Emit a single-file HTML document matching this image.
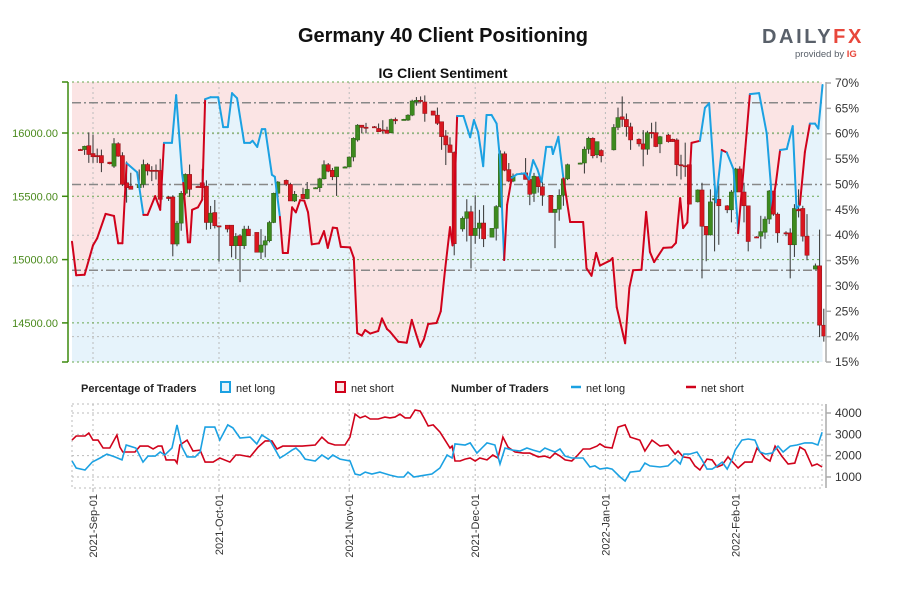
<!DOCTYPE html>
<html><head><meta charset="utf-8"><style>
html,body{margin:0;padding:0;background:#fff;}
svg{display:block;font-family:"Liberation Sans",sans-serif;}
</style></head><body>
<svg id="chart" width="900" height="600" viewBox="0 0 900 600" xmlns="http://www.w3.org/2000/svg">
<rect width="900" height="600" fill="#fff"/>
<text x="443" y="42" text-anchor="middle" font-size="20" font-weight="bold" fill="#111">Germany 40 Client Positioning</text>
<text x="443" y="78" text-anchor="middle" font-size="14" font-weight="bold" fill="#111">IG Client Sentiment</text>
<g>
<text x="762" y="43" font-size="20" font-weight="bold" letter-spacing="2.6" fill="#59606a">DAILY<tspan fill="#e8473b">FX</tspan></text>
<text x="795" y="57" font-size="9.5" fill="#59606a">provided by <tspan font-weight="bold" fill="#e8473b">IG</tspan></text>
</g>
<g id="main"></g>
<g id="lower"></g>
<g font-size="11" fill="#222">
<text x="81" y="392" font-weight="bold">Percentage of Traders</text>
<rect x="221" y="382" width="9" height="10" fill="#e6f3fb" stroke="#1ba1e2" stroke-width="2"/>
<text x="236" y="392">net long</text>
<rect x="336" y="382" width="9" height="10" fill="#fbe4e4" stroke="#d0021b" stroke-width="2"/>
<text x="351" y="392">net short</text>
<text x="451" y="392" font-weight="bold">Number of Traders</text>
<line x1="571" y1="387" x2="581" y2="387" stroke="#1ba1e2" stroke-width="2.5"/>
<text x="586" y="392">net long</text>
<line x1="686" y1="387" x2="696" y2="387" stroke="#d0021b" stroke-width="2.5"/>
<text x="701" y="392">net short</text>
</g>
</svg>
<script>
// ---- data ----
const sentDays=[0,1,3,5,6,8,10,11,12,13,15.5,17,18,19.8,21,21.9,23.8,24.8,26.2,26.5,27.6,28.1,28.6,30,31,31.7,33,34.8,36,37.1,38.1,39.3,41,42.4,43,44.1,45.2,46,47.6,48.3,49.5,50.2,51.4,52.4,53.3,54.3,55.3,56.2,57.1,58.8,60,60.9,62.1,63.1,64,66.2,67.1,67.9,69,69.8,71,72.9,73.8,75,75.7,77.7,79.7,80.9,82,82.9,83.8,84.8,86.8,87.8,88.8,90,90.6,91.4,91.7,93.2,94.8,95.7,96.7,97.9,98.7,99.9,101.1,101.9,102.9,103.6,104.7,105.9,107.9,108.8,109.8,110.8,111.8,112.9,114.2,114.5,115.8,117,118.6,121.7,122.5,123.7,124.8,125.7,128.1,128.7,129.7,131.7,132.7,133.6,135.6,136.7,137.6,138.6,140.8,142.8,143.8,144.8,145.5,146.5,147.5,149.5,150.7,151.7,153.3,154.7,155.9,157.5,158.5,158.6,160.3,161.4,163.6,165.4,166.4,166.6,167.6,168.6,170.2,170.5,171.6,172.5,173.3,174.5,175.7,176.9,177.7,178.7];
const sentPct=[38.7,32.1,32.2,38,39.4,44.2,43.8,38.4,38.4,54.2,52.4,44,44,47.7,45,58.2,58.2,67.6,52.2,50.3,38.6,38.6,45,45.5,47,66.8,67.2,67.2,61.3,61.3,68,67,58.2,58.2,58.6,57.4,60.9,60.9,51.9,51.5,43.6,36.5,36.5,45.5,44.5,46.9,46.8,44.5,38.2,38.4,40.8,37.5,41.5,41.4,37.7,37.6,35.5,20.7,20.2,21.3,20.6,21.1,23.6,21.5,21,19,18.8,23.3,20.3,18,19.5,22.5,22.7,25,33,41.6,38,56.2,63.5,63.5,59.3,62.7,60.3,53.6,63.7,63.7,62,55,35.1,46,51.3,52,52.2,51,54.8,53,50.5,57.4,57.4,56,59.4,51.2,42.6,42.6,33.5,32,36.5,34,35,35.5,25.8,18.7,29.6,33.1,33.2,44.6,36.7,34.7,37.5,37.6,38.5,47.3,41.4,42.5,58.2,58.6,65.1,66,46.5,56.8,56.3,53,42.4,40.4,57,67.8,68,60.1,49.9,45,50.3,56.8,57,58,61.5,45.3,46,56.4,62,62,61,69.6];
const sentSide="RRRRRRRRRRBBRRRRBBBBRRRRRRBBBBBBBBBBBBBBBRRRRRRRRRRRRRRRRRRRRRRRRRRRRRRRRRRRRRRBBBBBBBBBBRRBBBBBBBBBBBRRRRRRRRRRRRRRRRRRRRRRRRBBBBRBBBRRBBBBRRBBBBBRRBBBB".split("");
const candleDays=[2,3,4,5,6,7,9,10,11,12,13,14,16,17,18,19,20,21,23,24,25,26,27,28,30,31,32,33,34,35,37,38,39,40,41,42,44,45,46,47,48,49,51,52,53,55,56,58,59,60,61,62,63,65,66,67,68,69,70,72,73,74,75,76,77,79,80,81,82,83,84,86,87,88,89,90,91,93,94,95,96,97,98,100,101,102,103,104,105,107,108,109,110,111,112,114,115,116,117,118,121,122,123,124,125,126,129,130,131,132,133,135,136,137,138,139,140,142,143,144,145,146,147,149,150,151,152,153,154,156,157,158,159,160,161,163,164,165,166,167,168,170,171,172,173,174,175,177,178,179];
const candleOpen=[15870,15869,15900,15838,15822,15822,15770,15738,15916,15822,15607,15581,15568,15594,15751,15706,15706,15704,15495,15495,15123,15288,15524,15673,15578,15607,15581,15293,15372,15267,15272,15272,15110,15188,15110,15241,15215,15058,15115,15149,15293,15524,15626,15594,15463,15516,15482,15566,15568,15638,15750,15706,15654,15730,15732,15810,15945,16062,16046,16050,16036,16025,16023,16002,16107,16106,16102,16141,16245,16258,16245,16174,16141,16089,15977,15906,15846,15242,15326,15378,15190,15247,15289,15177,15247,15419,15836,15711,15620,15682,15685,15633,15523,15654,15576,15508,15372,15398,15508,15638,15760,15763,15872,15958,15828,15862,15867,16044,16128,16107,16049,15951,15914,15872,16005,16003,15914,15984,15951,15945,15750,15742,15750,15456,15550,15263,15195,15471,15477,15425,15393,15534,15716,15534,15425,15180,15185,15216,15320,15542,15359,15212,15211,15117,15399,15404,15185,14925,14951,14482];
const candleHigh=[15875,15900,16005,15987,15877,15869,15772,15960,15927,15848,15775,15686,15712,15790,15764,15738,15751,15796,15503,15508,15306,15542,15681,15751,15584,15717,15626,15424,15471,15267,15272,15272,15209,15201,15267,15267,15215,15241,15188,15306,15529,15620,15633,15607,15542,15568,15613,15572,15646,15784,15763,15724,15732,15737,15815,15966,16070,16062,16080,16055,16075,16101,16049,16114,16122,16112,16148,16263,16284,16289,16297,16174,16201,16089,16023,15966,15854,15341,15477,15425,15508,15393,15430,15247,15430,15862,15854,15763,15680,15688,15802,15685,15685,15659,15615,15508,15398,15555,15638,15758,15766,15893,15971,15966,15932,15872,16070,16200,16289,16154,16081,15958,16023,16018,16081,16089,15977,15992,15955,15958,15828,15924,15750,15555,15607,15263,15555,15602,15586,15430,15550,15724,15737,15607,15425,15185,15346,15341,15550,15542,15372,15224,15247,15438,15555,15425,15359,14969,15237,14612];
const candleLow=[15862,15827,15764,15764,15764,15691,15752,15725,15812,15581,15450,15555,15555,15568,15665,15620,15633,15463,15463,15026,15105,15228,15508,15495,15570,15568,15236,15241,15246,14984,15215,15018,15005,14822,15084,15188,15058,15005,15018,15136,15288,15471,15581,15463,15455,15477,15477,15560,15534,15633,15690,15628,15503,15725,15730,15776,15932,15997,15997,16045,16010,15997,15997,15997,16070,16100,16096,16133,16216,16242,16089,16141,16063,15867,15747,15846,15034,15221,15143,14930,15125,15164,15099,15177,15151,15411,15698,15612,15612,15676,15633,15430,15456,15529,15425,15372,15091,15307,15425,15628,15757,15680,15836,15800,15802,15768,15862,16023,16049,15971,15867,15893,15737,15828,15958,15888,15841,15924,15930,15659,15633,15654,15438,15451,14852,14987,15190,15065,15117,15367,15294,15497,15534,15294,15065,15175,15086,15164,15281,15346,15133,15185,14852,15021,15333,15143,14995,14925,14388,14352];
const candleClose=[15866,15895,15830,15812,15812,15764,15757,15916,15817,15594,15568,15555,15594,15751,15700,15704,15704,15476,15482,15123,15288,15524,15673,15555,15576,15568,15293,15367,15267,15262,15241,15110,15183,15110,15241,15188,15058,15115,15149,15293,15524,15613,15594,15463,15516,15482,15555,15568,15638,15750,15698,15654,15732,15732,15810,15958,16062,16044,16042,16048,16010,16021,15997,16107,16096,16108,16141,16253,16258,16253,16154,16141,16076,15971,15906,15846,15125,15326,15378,15190,15247,15289,15164,15247,15419,15836,15706,15620,15659,15680,15633,15516,15659,15576,15508,15372,15398,15508,15638,15750,15763,15872,15958,15820,15932,15820,16044,16122,16107,16049,15945,15914,15872,16003,16001,15893,15971,15932,15932,15750,15742,15737,15438,15550,15263,15195,15456,15482,15425,15393,15534,15716,15534,15425,15143,15177,15221,15320,15542,15359,15211,15208,15117,15404,15385,15185,15034,14951,14482,14396];
const longDays=[0,1,3.1,4.8,6.7,8.3,10.2,11.9,12.9,15.2,16.9,18.1,19.8,21,22.1,23.8,25,26.2,27.4,29.3,30.5,31.7,34,35.2,37.1,38.3,40,42.4,44,45.2,47.1,49.5,50.7,52.4,53.3,54.3,55.5,57.9,59.5,61,62.1,63.8,66.2,67.4,68.6,69.8,71.4,73.3,75.7,77.6,79,80,81.4,82.9,85.7,87.6,89.3,90.5,91.2,93.6,94.8,96.4,97.6,98.8,100.7,101.9,103.1,104.8,106.7,108.3,109.8,111.4,112.6,113.8,115,116.2,117.4,119,121.7,123.3,124.5,125.7,127.4,128.6,130.5,131.7,132.9,135.2,136.4,137.6,140,141.9,143.6,144.8,145.7,147.1,148.8,150,151.2,152.4,153.6,154.8,156,157.1,157.9,159.5,161,162.6,163.8,165.2,166.7,168.1,169.3,171,172.6,174.5,176.2,177.6,178.6];
const longCounts=[1750,1420,1330,1700,1890,2075,1940,1800,2500,2360,1700,1980,1980,2170,2030,2360,3440,2400,1940,1940,2170,3340,3340,2730,3440,3300,2830,2870,2550,2970,2730,1890,2030,2260,2360,2170,1840,1750,2030,1840,2030,1840,1750,1140,1090,1230,1140,1230,1090,1000,1000,1230,1000,1050,1140,1420,2030,1890,2550,2500,2600,2120,2360,2600,2500,1610,2360,2260,2220,2360,2260,2170,2360,2260,2170,2310,1980,1890,1890,1470,1520,1370,1420,1370,1000,810,1230,1280,1650,1520,1470,1520,1840,1610,2075,2075,2170,1800,1370,1370,1520,1700,1370,1800,2260,2730,2780,2730,2170,2075,2120,2450,2170,2450,2500,2600,2600,2500,3100];
const shortDays=[0,1,3.1,4,5,6.2,7.4,9,10.7,11.4,12.1,15,16.2,18.1,19.3,20.5,21.4,22.4,24.5,25,25.7,27.4,28.8,30.5,31.7,33.6,35.2,37.6,39,40,42.4,44.3,46,47.6,48.8,50.2,52.4,54.8,57.9,59.5,61,62.6,65,66.2,67.4,68.6,69.8,71,72.9,74.5,75.7,76.9,78.1,79.3,80.5,81.7,82.9,83.8,84.8,86,87.6,88.8,90,90.5,91.2,92.4,93.6,94.8,96,97.1,98.8,100.2,101.4,102.6,103.8,105.5,107.4,109,111,112.6,113.8,115,116.2,117.4,119,120.2,121.7,123.3,125,125.7,126.9,128.6,130,131.7,132.9,135.2,136.4,138.1,140,141.9,143.6,144.3,145.5,147.1,148.3,149.5,151.2,152.4,153.6,154.8,156.2,158.6,160.2,161.9,163.1,165,166.2,167.4,169,170.5,172.1,173.3,174.5,176.2,177.4,178.6];
const shortCounts=[2730,2920,2920,3060,2730,2730,2360,2360,2970,2400,2170,2170,2450,2450,2310,2450,2450,1800,1800,1650,2500,2730,2220,2260,1700,1700,1890,1700,2030,2030,1940,2400,2690,2690,2310,2450,2450,2450,2500,2870,2600,2500,2500,2870,3950,3770,3860,3720,3720,3810,3770,3810,3950,3770,3770,4140,4090,3770,3390,3440,3110,2730,2360,2450,1750,1750,1840,1890,1750,1890,1800,2030,1890,2870,2400,2170,2120,2120,1940,1980,1890,2120,1980,1800,1750,1980,2310,2310,2450,2550,2400,2360,3340,3440,2870,2730,2220,2730,2450,2500,2075,2220,1940,1890,1520,1330,1840,1800,1470,1560,1940,1420,1700,1700,2360,1890,1750,2450,1980,1610,1650,2400,2260,1520,1610,1470];
const dateTickDays=[5,35,66,96,127,158];
const dateTickLabels=["2021-Sep-01","2021-Oct-01","2021-Nov-01","2021-Dec-01","2022-Jan-01","2022-Feb-01"];
const priceTicks=[14500,15000,15500,16000];
const pctTicks=[15,20,25,30,35,40,45,50,55,60,65,70];
const pctGrid=[20,30,40,60];
const pctRefLines=[66.1,50,33.1];
const countTicks=[1000,2000,3000,4000];

// ---- scales ----
const L=72,R=822,T=82,B=362,LT=404,LB=488;
const X=d=>L+d*4.2;
const P=p=>133+(16000-p)*0.1266;
const Q=v=>83+(70-v)*5.073;
const C=v=>413+(4000-v)*0.02133;
const NS="http://www.w3.org/2000/svg";
function mk(parent,tag,attrs){const e=document.createElementNS(NS,tag);for(const k in attrs)e.setAttribute(k,attrs[k]);parent.appendChild(e);return e;}
const main=document.getElementById('main'), lower=document.getElementById('lower');

let pinkBg=mk(main,'rect',{x:L,y:T,width:R-L,height:B-T,fill:'#fbe4e4'});


let pts=sentDays.map((d,i)=>X(d).toFixed(1)+','+Q(sentPct[i]).toFixed(1));
let area=mk(main,'polygon',{points:X(sentDays[0])+','+B+' '+pts.join(' ')+' '+X(sentDays[sentDays.length-1])+','+B+' '+R+','+B+' '+L+','+B,fill:'#e6f3fb'});



dateTickDays.forEach(d=>{
 let g=mk(main,'line',{x1:X(d),x2:X(d),y1:T,y2:B,stroke:'#bbb','stroke-dasharray':'2,3','stroke-width':1});
 
 
 let g2=mk(lower,'line',{x1:X(d),x2:X(d),y1:LT,y2:LB,stroke:'#bbb','stroke-dasharray':'2,3','stroke-width':1});
 
 
});
pctGrid.forEach(v=>{
 let g=mk(main,'line',{x1:L,x2:R,y1:Q(v),y2:Q(v),stroke:'#bbb','stroke-dasharray':'2,3'});
 
 
});
[T,B].concat(priceTicks.map(P)).forEach(y=>{
 let g=mk(main,'line',{x1:L,x2:R,y1:y,y2:y,stroke:'#6aa84f','stroke-dasharray':'2,3'});
 
 
});
pctRefLines.forEach(v=>{
 let g=mk(main,'line',{x1:L,x2:R,y1:Q(v),y2:Q(v),stroke:'#888','stroke-width':1.5,'stroke-dasharray':'9,3,2,3'});
 
 
});

candleDays.forEach((d,i)=>{
 const o=candleOpen[i],c=candleClose[i],up=c>=o,x=X(d);
 let w=mk(main,'line',{x1:x,x2:x,y1:P(candleHigh[i]),y2:P(candleLow[i]),stroke:'#333','stroke-width':1});
 
 
 const y1=Math.min(P(o),P(c)),h=Math.max(1.2,Math.abs(P(o)-P(c)));
 let b=mk(main,'rect',{x:x-2.1,y:y1,width:4.2,height:h,fill:up?'#3d8a1e':'#d9161f',stroke:up?'#2c5e17':'#8a1016','stroke-width':0.5});
 
 
});

for(let i=1;i<sentDays.length;i++){
 let s=mk(main,'line',{x1:X(sentDays[i-1]),y1:Q(sentPct[i-1]),x2:X(sentDays[i]),y2:Q(sentPct[i]),stroke:sentSide[i]==='B'?'#1ba1e2':'#d0021b','stroke-width':2,'stroke-linecap':'round'});
 
 
}

let la=mk(main,'line',{x1:68,x2:68,y1:T,y2:B,stroke:'#3c8a0e','stroke-width':1.5});


[T,B].forEach(y=>{let t=mk(main,'line',{x1:62,x2:68,y1:y,y2:y,stroke:'#3c8a0e','stroke-width':1.5});});
priceTicks.forEach(p=>{
 let t=mk(main,'line',{x1:62,x2:68,y1:P(p),y2:P(p),stroke:'#3c8a0e','stroke-width':1.5});
 
 
 let tx=mk(main,'text',{x:58,y:P(p)+4,'text-anchor':'end','font-size':11,fill:'#4a8a1c'});
 tx.textContent=p.toFixed(2);
 
 
});
let ra=mk(main,'line',{x1:826,x2:826,y1:T,y2:B,stroke:'#aaa','stroke-width':1.5});


pctTicks.forEach(v=>{
 let t=mk(main,'line',{x1:826,x2:831,y1:Q(v),y2:Q(v),stroke:'#aaa','stroke-width':1.5});
 
 
 let tx=mk(main,'text',{x:835,y:Q(v)+4,'font-size':12,fill:'#333'});
 tx.textContent=v+'%';
 
 
});

let lb=mk(lower,'rect',{x:L,y:LT,width:R-L,height:LB-LT,fill:'none',stroke:'#bbb','stroke-dasharray':'2,3'});


countTicks.forEach(v=>{
 let g=mk(lower,'line',{x1:L,x2:R,y1:C(v),y2:C(v),stroke:'#bbb','stroke-dasharray':'2,3'});
 
 
 let t=mk(lower,'line',{x1:826,x2:831,y1:C(v),y2:C(v),stroke:'#aaa','stroke-width':1.5});
 
 
 let tx=mk(lower,'text',{x:835,y:C(v)+4,'font-size':12,fill:'#333'});
 tx.textContent=v;
 
 
});
let lra=mk(lower,'line',{x1:826,x2:826,y1:LT,y2:LB,stroke:'#aaa','stroke-width':1.5});


let sl=mk(lower,'polyline',{points:shortDays.map((d,i)=>X(d).toFixed(1)+','+C(shortCounts[i]).toFixed(1)).join(' '),fill:'none',stroke:'#d0021b','stroke-width':1.6});


let bl=mk(lower,'polyline',{points:longDays.map((d,i)=>X(d).toFixed(1)+','+C(longCounts[i]).toFixed(1)).join(' '),fill:'none',stroke:'#1ba1e2','stroke-width':1.6});


dateTickDays.forEach((d,i)=>{
 let t=mk(lower,'line',{x1:X(d),x2:X(d),y1:LB,y2:LB+4,stroke:'#aaa'});
 
 
 let tx=mk(lower,'text',{x:0,y:0,'text-anchor':'end','font-size':11,fill:'#333',transform:'translate('+(X(d)+4)+',494) rotate(-90)'});
 tx.textContent=dateTickLabels[i];
 
 
});
</script>
</body></html>
